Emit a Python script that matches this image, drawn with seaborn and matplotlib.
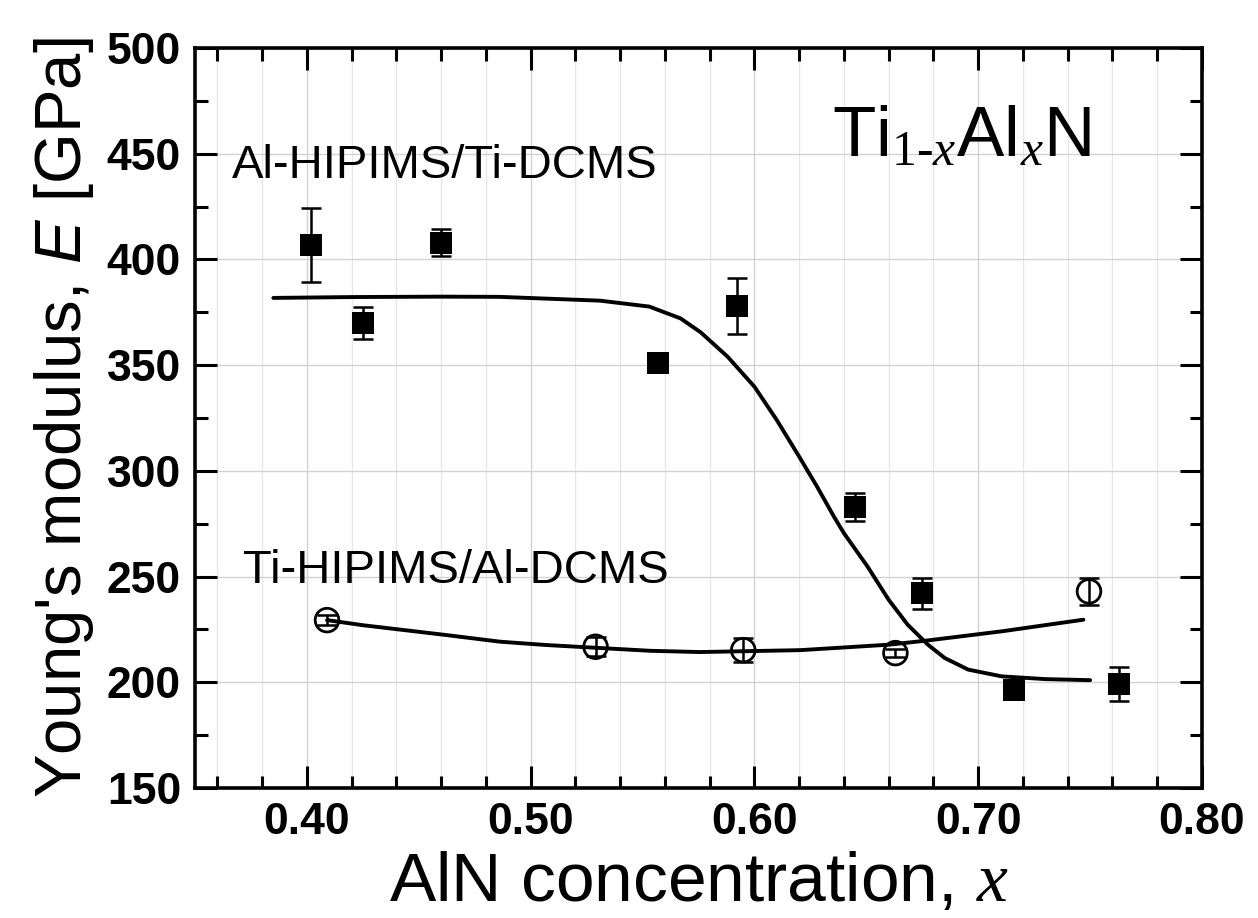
import numpy as np
import pandas as pd
import matplotlib
matplotlib.use("Agg")
import matplotlib.pyplot as plt
import seaborn as sns
from matplotlib.ticker import MultipleLocator

# ---- data ----
al_x = [0.402, 0.425, 0.460, 0.557, 0.592, 0.645, 0.675, 0.716, 0.763]
al_E = [407.0, 370.0, 408.0, 351.0, 378.0, 283.0, 242.0, 196.5, 199.0]
al_err = [17.5, 7.5, 6.5, 4.0, 13.3, 6.5, 7.5, 3.0, 8.0]

ti_x = [0.409, 0.529, 0.595, 0.663, 0.7495]
ti_E = [229.4, 216.8, 215.2, 213.8, 243.0]
ti_err = [2.5, 4.5, 5.8, 2.0, 6.4]

fit1_x = [0.385, 0.420, 0.460, 0.486, 0.531, 0.553, 0.567, 0.576, 0.588, 0.600,
          0.610, 0.620, 0.628, 0.6355, 0.640, 0.6505, 0.660, 0.6685, 0.6775,
          0.685, 0.6955, 0.7105, 0.730, 0.750]
fit1_E = [381.8, 382.2, 382.4, 382.3, 380.5, 377.7, 372.1, 365.5, 354.0, 339.8,
          324.0, 306.7, 292.5, 278.4, 270.5, 254.8, 239.0, 227.2, 217.8,
          211.5, 206.0, 202.8, 201.5, 201.0]

fit2_x = [0.409, 0.425, 0.4626, 0.4863, 0.5073, 0.5533, 0.5756, 0.6205, 0.6603,
          0.6775, 0.7105, 0.747]
fit2_E = [229.4, 227.0, 222.3, 219.2, 217.6, 214.9, 214.3, 215.2, 217.8,
          219.8, 224.1, 229.6]

xticks = [0.40, 0.50, 0.60, 0.70, 0.80]
xtick_labels = ["0.40", "0.50", "0.60", "0.70", "0.80"]
yticks = [150, 200, 250, 300, 350, 400, 450, 500]
ytick_labels = ["150", "200", "250", "300", "350", "400", "450", "500"]

label_al = "Al-HIPIMS/Ti-DCMS"
label_ti = "Ti-HIPIMS/Al-DCMS"
title_formula = "Ti$_{\\mathrm{1\u2010}x}$Al$_{x}$N"

# ---- style ----
sns.set_theme(style="ticks")
plt.rcParams["font.family"] = ["Liberation Sans", "DejaVu Sans"]
plt.rcParams["mathtext.fontset"] = "custom"
plt.rcParams["mathtext.rm"] = "Liberation Serif"
plt.rcParams["mathtext.it"] = "Liberation Serif:italic"
plt.rcParams["mathtext.sf"] = "Liberation Sans:italic"
plt.rcParams["text.color"] = "black"
plt.rcParams["axes.labelcolor"] = "black"
plt.rcParams["xtick.color"] = "black"
plt.rcParams["ytick.color"] = "black"

fig = plt.figure(figsize=(12.58, 9.18), dpi=100)
ax = fig.add_axes([195 / 1258, 130 / 918, 1007 / 1258, 740 / 918])

ax.set_xlim(0.35, 0.80)
ax.set_ylim(150, 500)
ax.set_xticks(xticks)
ax.set_xticklabels(xtick_labels)
ax.set_yticks(yticks)
ax.set_yticklabels(ytick_labels)
ax.xaxis.set_minor_locator(MultipleLocator(0.02))
ax.yaxis.set_minor_locator(MultipleLocator(25))

ax.grid(which="major", axis="both", color="#d2d2d2", lw=1.0, zorder=0)
ax.grid(which="minor", axis="x", color="#e8e8e8", lw=1.0, zorder=0)
ax.set_axisbelow(True)

ax.tick_params(which="major", direction="in", length=16, width=2.2,
               top=True, right=True, labelsize=32, pad=10,
               colors="black", labelcolor="black")
ax.tick_params(which="minor", direction="in", length=9, width=2.2,
               top=True, right=True, colors="black")
plt.setp(ax.get_xticklabels(), fontweight="bold", color="black")
plt.setp(ax.get_yticklabels(), fontweight="bold", color="black")
for sp in ax.spines.values():
    sp.set_linewidth(2.6)
    sp.set_color("black")
    sp.set_visible(True)

# fitted curves
sns.lineplot(x=fit1_x, y=fit1_E, sort=False, estimator=None, color="black",
             linewidth=2.8, ax=ax, zorder=2)
sns.lineplot(x=fit2_x, y=fit2_E, sort=False, estimator=None, color="black",
             linewidth=2.8, ax=ax, zorder=2)

# error bars
ax.errorbar(al_x, al_E, yerr=al_err, fmt="none", ecolor="black",
            elinewidth=1.8, capsize=7.5, capthick=1.8, zorder=3)
ax.errorbar(ti_x, ti_E, yerr=ti_err, fmt="none", ecolor="black",
            elinewidth=1.8, capsize=7.5, capthick=1.8, zorder=3)

# markers
sns.scatterplot(x=al_x, y=al_E, marker="s", s=250, color="black",
                edgecolor="black", linewidth=0, ax=ax, zorder=4)
ax.scatter(ti_x, ti_E, marker="o", s=290, facecolors="none",
           edgecolors="black", linewidths=2.0, zorder=4)

# texts
ax.text(0.3665, 438.5, label_al, fontsize=34, ha="left", va="baseline",
        color="black")
ax.text(0.3715, 246.9, label_ti, fontsize=34, ha="left", va="baseline",
        color="black")
ax.text(0.6346, 448.9, title_formula, fontsize=51, ha="left", va="baseline",
        color="black")

ax.set_xlabel("AlN concentration, $x$", fontsize=50, labelpad=6, color="black")
ax.set_ylabel("Young's modulus, $\\mathsf{E}$ [GPa]", fontsize=47,
              labelpad=8, color="black")

fig.savefig("out.png", dpi=100)
